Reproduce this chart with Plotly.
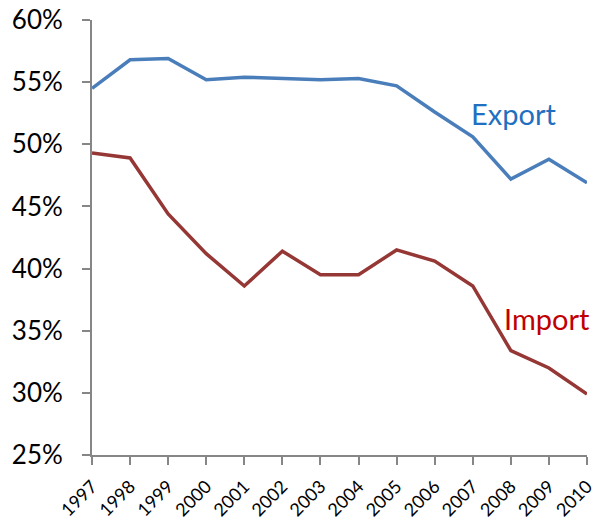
import plotly.graph_objects as go

years = [1997, 1998, 1999, 2000, 2001, 2002, 2003, 2004, 2005, 2006, 2007, 2008, 2009, 2010]
export_pct = [54.5, 56.8, 56.9, 55.2, 55.4, 55.3, 55.2, 55.3, 54.7, 52.6, 50.6, 47.2, 48.8, 46.9]
import_pct = [49.3, 48.9, 44.4, 41.2, 38.6, 41.4, 39.5, 39.5, 41.5, 40.6, 38.6, 33.4, 32.0, 29.9]
y_ticks = [25, 30, 35, 40, 45, 50, 55, 60]
y_tick_labels = [f"{v}%" for v in y_ticks]

FONT = "Lato"

fig = go.Figure()
fig.add_trace(go.Scatter(x=years, y=export_pct, mode="lines", name="Export",
                         line=dict(color="#4A7EBB", width=3.5), showlegend=False))
fig.add_trace(go.Scatter(x=years, y=import_pct, mode="lines", name="Import",
                         line=dict(color="#953735", width=3.5), showlegend=False))

fig.add_annotation(x=2008.06, y=52.5, text="Export", showarrow=False,
                   font=dict(family=FONT, size=29, color="#1F70C1"))
fig.add_annotation(x=2008.95, y=36.0, text="Import", showarrow=False,
                   font=dict(family=FONT, size=29, color="#C00000"))

fig.update_layout(
    width=604, height=524,
    margin=dict(l=92, r=17, t=20, b=69, autoexpand=False),
    paper_bgcolor="white", plot_bgcolor="white",
    font=dict(family=FONT, color="black"),
)
fig.update_xaxes(
    range=[1997, 2010], tickvals=years, ticktext=[str(y) for y in years],
    tickangle=-45, tickfont=dict(size=18, family=FONT), automargin=False,
    showline=True, linecolor="#868686", linewidth=2,
    ticks="outside", ticklen=8, tickcolor="#868686", tickwidth=1.5,
    showgrid=False, zeroline=False, ticklabelstandoff=4,
    ticklabeloverflow="allow",
)
fig.update_yaxes(
    range=[25, 60], tickvals=y_ticks, ticktext=y_tick_labels,
    tickfont=dict(size=26, family=FONT), automargin=False,
    showline=True, linecolor="#868686", linewidth=2,
    ticks="outside", ticklen=8, tickcolor="#868686", tickwidth=1.5,
    showgrid=False, zeroline=False, ticklabelstandoff=14,
    ticklabeloverflow="allow",
)

fig.write_html(
    "out.html",
    config={"displayModeBar": False},
    post_script="document.body.style.margin='0';document.body.style.padding='0';",
)
